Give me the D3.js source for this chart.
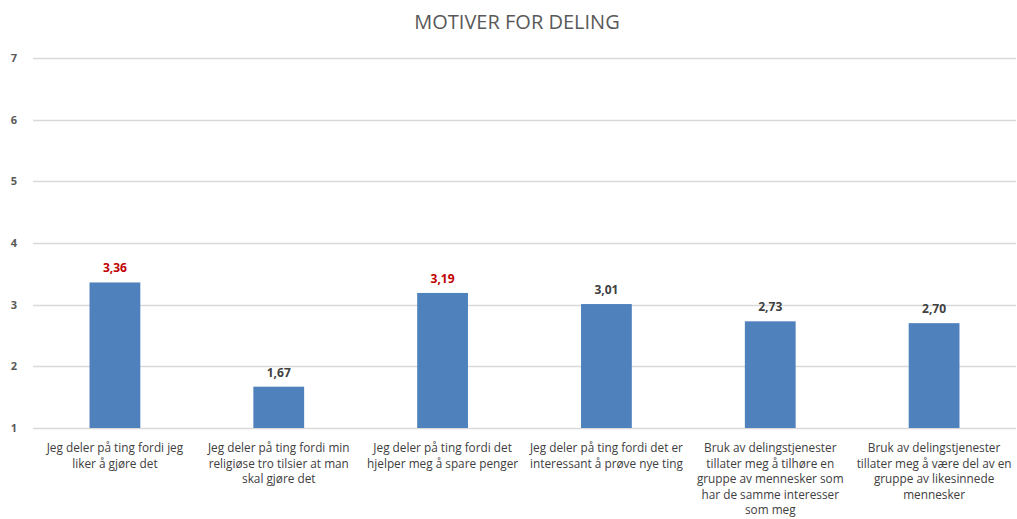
<!DOCTYPE html>
<html>
<head>
<meta charset="utf-8">
<script src="https://cdn.jsdelivr.net/npm/d3@7"></script>
<style>
  body { margin: 0; background: #fff; }
  text { font-family: "Open Sans", "Liberation Sans", sans-serif; }
</style>
</head>
<body>
<div id="chart"></div>
<script>
// data
const categories = [
  "Jeg deler på ting fordi jeg\nliker å gjøre det",
  "Jeg deler på ting fordi min\nreligiøse tro tilsier at man\nskal gjøre det",
  "Jeg deler på ting fordi det\nhjelper meg å spare penger",
  "Jeg deler på ting fordi det er\ninteressant å prøve nye ting",
  "Bruk av delingstjenester\ntillater meg å tilhøre en\ngruppe av mennesker som\nhar de samme interesser\nsom meg",
  "Bruk av delingstjenester\ntillater meg å være del av en\ngruppe av likesinnede\nmennesker"
];
const values = [3.36, 1.67, 3.19, 3.01, 2.73, 2.70];
const highlighted = [true, false, true, false, false, false];
const yTicks = [1, 2, 3, 4, 5, 6, 7];

const width = 1017, height = 519;
const margin = { top: 58, right: 1, bottom: 91, left: 33 };

const svg = d3.select("#chart").append("svg")
  .attr("width", width)
  .attr("height", height);

const x = d3.scaleBand()
  .domain(d3.range(categories.length))
  .range([margin.left, width - margin.right])
  .paddingInner(0.69)
  .paddingOuter(0.345);

const y = d3.scaleLinear()
  .domain([1, 7])
  .range([height - margin.bottom, margin.top]);

// title
svg.append("text")
  .attr("x", 517)
  .attr("y", 29)
  .attr("text-anchor", "middle")
  .style("font-size", "20px")
  .style("fill", "#595959")
  .text("MOTIVER FOR DELING");

// gridlines
svg.append("g").selectAll("line")
  .data(yTicks)
  .enter().append("line")
  .attr("x1", margin.left)
  .attr("x2", width - margin.right)
  .attr("y1", d => Math.round(y(d)) + 0.5)
  .attr("y2", d => Math.round(y(d)) + 0.5)
  .attr("stroke", "#d9d9d9")
  .attr("stroke-width", 1.3);

// y tick labels
svg.append("g").selectAll("text")
  .data(yTicks)
  .enter().append("text")
  .attr("x", 14)
  .attr("y", d => y(d))
  .attr("dy", "0.35em")
  .attr("text-anchor", "middle")
  .style("font-size", "11px")
  .style("font-weight", "bold")
  .style("fill", "#595959")
  .text(d => d);

// bars
svg.append("g").selectAll("rect")
  .data(values)
  .enter().append("rect")
  .attr("x", (d, i) => x(i))
  .attr("width", x.bandwidth())
  .attr("y", d => y(d))
  .attr("height", d => y(1) - y(d))
  .attr("fill", "#4f81bd");

// value labels
const fmt = d3.format(".2f");
svg.append("g").selectAll("text")
  .data(values)
  .enter().append("text")
  .attr("x", (d, i) => x(i) + x.bandwidth() / 2)
  .attr("y", d => y(d) - 10)
  .attr("text-anchor", "middle")
  .style("font-size", "12px")
  .style("font-weight", "bold")
  .style("fill", (d, i) => highlighted[i] ? "#c00000" : "#404040")
  .text(d => fmt(d).replace(".", ","));

// category labels
const cat = svg.append("g").selectAll("text")
  .data(categories)
  .enter().append("text")
  .attr("transform", (d, i) => `translate(${x(i) + x.bandwidth() / 2},${y(1) + 24})`)
  .attr("text-anchor", "middle")
  .style("font-size", "11.8px")
  .style("fill", "#404040");

cat.selectAll("tspan")
  .data(d => d.split("\n"))
  .enter().append("tspan")
  .attr("x", 0)
  .attr("y", (d, i) => i * 15.5)
  .text(d => d);
</script>
</body>
</html>
